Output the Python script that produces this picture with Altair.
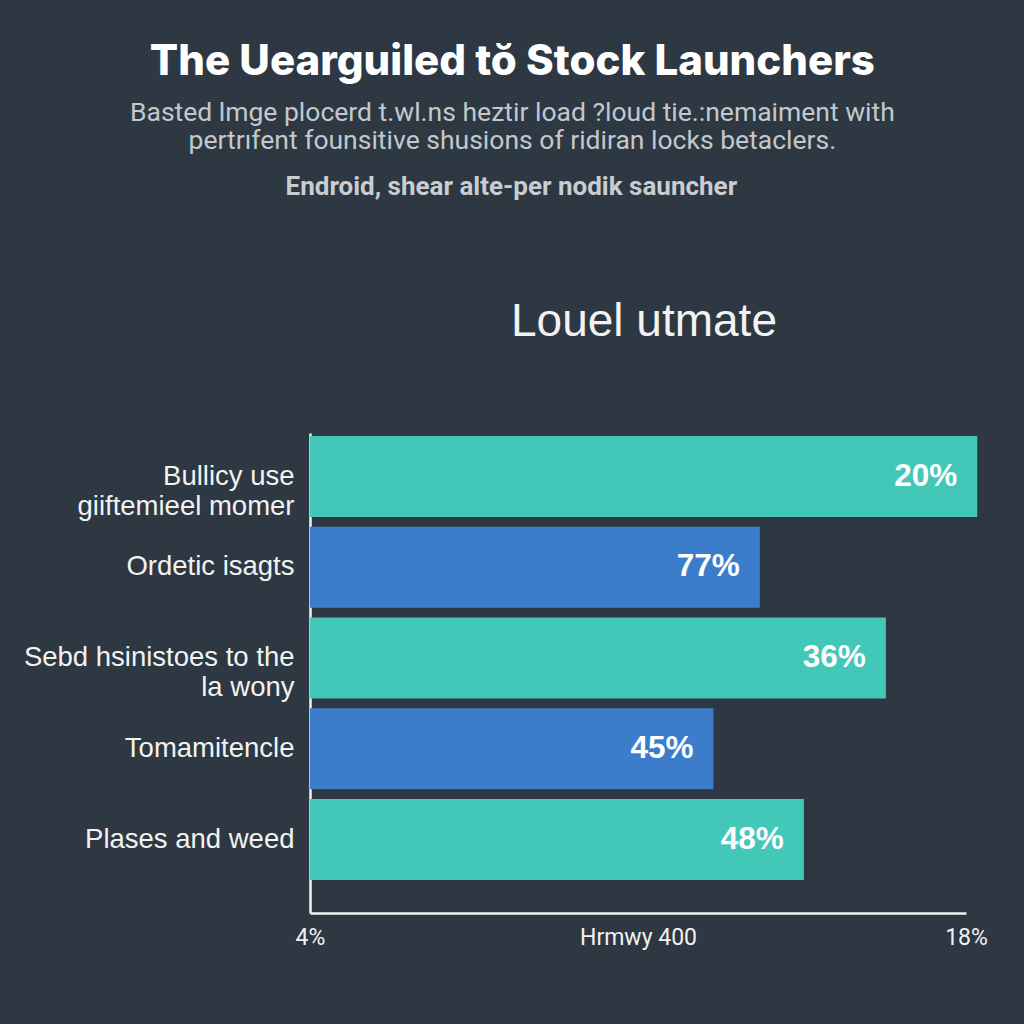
import altair as alt
import pandas as pd

# ---- data ----
categories = [
    "Bullicy use\ngiiftemieel momer",
    "Ordetic isagts",
    "Sebd hsinistoes to the\nla wony",
    "Tomamitencle",
    "Plases and weed",
]
values = [18.24, 13.6, 16.29, 12.61, 14.54]
bar_labels = ["20%", "77%", "36%", "45%", "48%"]
x_ticks = [4, 18]
x_min, x_max = 4, 18
x_title = "Hrmwy 400"

title_text = "The Uearguiled tŏ Stock Launchers"
subtitle_lines = [
    "Basted lmge plocerd t.wl.ns heztir load ?loud tie.:nemaiment with",
    "pertrıfent founsitive shusions of ridiran locks betaclers.",
]
section_text = "Endroid, shear alte-per nodik sauncher"
chart_title = "Louel utmate"

# ---- style ----
BG = "#2d3842"
TEAL = "#43c7b9"
BLUE = "#3b7dcb"
WHITE = "#f2f2f2"

df = pd.DataFrame({"category": categories, "value": values, "label": bar_labels})

y_enc = alt.Y(
    "category:N",
    sort=categories,
    scale=alt.Scale(paddingInner=0.107, paddingOuter=0.198, align=0.083),
    axis=alt.Axis(
        title=None,
        domain=True,
        domainColor=WHITE,
        domainWidth=2.5,
        ticks=False,
        grid=False,
        labelExpr="split(datum.label, '\\n')",
        labelFont="Liberation Sans",
        labelFontSize=27.5,
        labelLineHeight=30,
        labelColor=WHITE,
        labelPadding=16,
        labelLimit=500,
    ),
)

x_scale = alt.Scale(domain=[x_min, x_max], zero=False, nice=False)

bars = alt.Chart(df).mark_bar(clip=False).encode(
    y=y_enc,
    x=alt.X(
        "value:Q",
        scale=x_scale,
        axis=alt.Axis(
            values=x_ticks,
            labelExpr="datum.value + '%'",
            labelFlush=False,
            ticks=False,
            grid=False,
            domain=True,
            domainColor=WHITE,
            domainWidth=2.5,
            labelFont="Roboto",
            labelFontSize=23,
            labelColor=WHITE,
            labelPadding=13,
            title=x_title,
            titleFont="Roboto",
            titleFontSize=23,
            titleFontWeight="normal",
            titleColor=WHITE,
            titleY=13,
            titleBaseline="top",
        ),
    ),
    x2=alt.datum(x_min),
    color=alt.Color(
        "category:N",
        scale=alt.Scale(domain=categories, range=[TEAL, BLUE, TEAL, BLUE, TEAL]),
        legend=None,
    ),
)

text = alt.Chart(df).mark_text(
    align="right",
    baseline="middle",
    dx=-20,
    font="Liberation Sans",
    fontSize=31.5,
    fontWeight="bold",
    color="white",
).encode(
    y=alt.Y("category:N", sort=categories),
    x=alt.X("value:Q", scale=x_scale),
    text="label:N",
)

plot = alt.layer(bars, text).properties(
    width=656,
    height=480,
    title=alt.TitleParams(
        chart_title,
        anchor="middle",
        frame="group",
        font="Liberation Sans",
        fontSize=46,
        fontWeight="normal",
        color=WHITE,
        offset=87,
        dx=6,
    ),
)

inner = alt.vconcat(plot).properties(
    title=alt.TitleParams(
        section_text,
        anchor="middle",
        frame="bounds",
        font="Roboto",
        fontSize=26,
        fontWeight="bold",
        color="#c9cdd2",
        offset=99,
        dx=6,
    ),
)

chart = alt.vconcat(inner).properties(
    title=alt.TitleParams(
        title_text,
        subtitle=subtitle_lines,
        anchor="middle",
        frame="bounds",
        font="Inter",
        fontSize=42,
        fontWeight=800,
        color="white",
        subtitleFont="Roboto",
        subtitleFontSize=26.5,
        subtitleColor="#c3c8cd",
        subtitleLineHeight=28,
        subtitlePadding=16,
        offset=19,
        dx=7,
    ),
    background=BG,
    padding={"left": 23, "top": 40, "right": 36, "bottom": 76},
).configure_view(stroke=None).configure_concat(spacing=0)

chart.save("out.html", embed_options={"renderer": "svg", "actions": False})
